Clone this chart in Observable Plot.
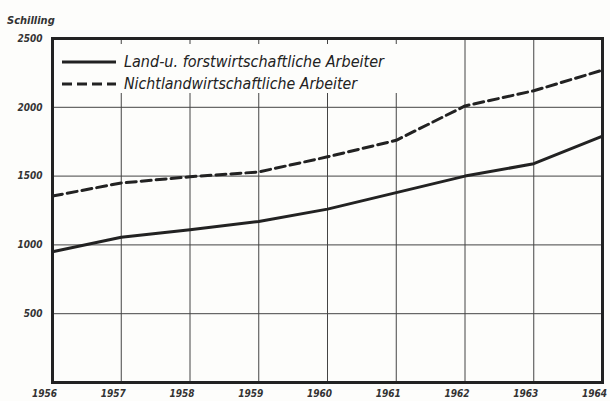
<!DOCTYPE html>
<html><head><meta charset="utf-8">
<script src="https://cdn.jsdelivr.net/npm/d3@7"></script>
<script src="https://cdn.jsdelivr.net/npm/@observablehq/plot@0.6"></script>
<style>
html,body{margin:0;padding:0;background:#fdfdfb;}
#chart{width:610px;height:401px;overflow:hidden;}
</style></head><body><div id="chart"></div>
<script>
const years = [1956, 1957, 1958, 1959, 1960, 1961, 1962, 1963, 1964];
const landValues = [950, 1055, 1110, 1170, 1260, 1380, 1500, 1590, 1790];
const nichtValues = [1355, 1450, 1495, 1530, 1640, 1760, 2010, 2120, 2270];
const seriesNames = ["Land-u. forstwirtschaftliche Arbeiter", "Nichtlandwirtschaftliche Arbeiter"];
const yTicks = [500, 1000, 1500, 2000, 2500];
const yLabel = "Schilling";

const land = years.map((y, i) => ({year: y, value: landValues[i]}));
const nicht = years.map((y, i) => ({year: y, value: nichtValues[i]}));

const font = "'Liberation Sans Narrow','DejaVu Sans Condensed','Liberation Sans',sans-serif";
const ink = "#222";

const plot = Plot.plot({
  width: 610, height: 401,
  marginLeft: 52, marginRight: 8, marginTop: 38, marginBottom: 19,
  style: {background: "#fdfdfb", fontFamily: font, overflow: "visible"},
  x: {domain: [1956, 1964], range: [52, 602]},
  y: {domain: [0, 2500]},
  marks: [
    Plot.gridX(years, {stroke: "#444", strokeOpacity: 1, strokeWidth: 1}),
    Plot.gridY(yTicks, {stroke: "#444", strokeOpacity: 1, strokeWidth: 1}),
    Plot.line(land, {x: "year", y: "value", stroke: ink, strokeWidth: 3}),
    Plot.line(nicht, {x: "year", y: "value", stroke: ink, strokeWidth: 3, strokeDasharray: "10,5"}),
    Plot.frame({stroke: ink, strokeWidth: 3}),
    Plot.axisY(yTicks, {tickSize: 0, tickPadding: 10, label: null, tickFormat: d => String(d), fontSize: 10, fontStyle: "italic", fontWeight: "bold", fill: "#333"}),
    Plot.axisX(years, {tickSize: 0, tickPadding: 7, label: null, tickFormat: d => String(d), dx: -8, fontSize: 10, fontStyle: "italic", fontWeight: "bold", fill: "#333"})
  ]
});

const svg = d3.select(plot);
svg.append("text").attr("x", 7).attr("y", 24).text(yLabel).attr("text-anchor", "start")
  .attr("font-family", font).attr("font-size", 11).attr("font-style", "italic").attr("font-weight", "bold").attr("fill", "#333");

const lg = svg.append("g");
lg.append("rect").attr("x", 55).attr("y", 44).attr("width", 342).attr("height", 49).attr("fill", "#fdfdfb");
const rows = [{y: 62, dash: null, len: 260}, {y: 84, dash: "10,5", len: 233}];
rows.forEach((r, i) => {
  lg.append("line").attr("x1", 62).attr("x2", 116).attr("y1", r.y).attr("y2", r.y)
    .attr("stroke", ink).attr("stroke-width", 3).attr("stroke-dasharray", r.dash);
  lg.append("text").attr("x", 124).attr("y", r.y + 5).text(seriesNames[i]).attr("text-anchor", "start")
    .attr("font-family", font).attr("font-size", 15).attr("font-style", "italic").attr("fill", ink)
    .attr("textLength", r.len).attr("lengthAdjust", "spacingAndGlyphs");
});

document.getElementById("chart").appendChild(plot);
</script></body></html>
